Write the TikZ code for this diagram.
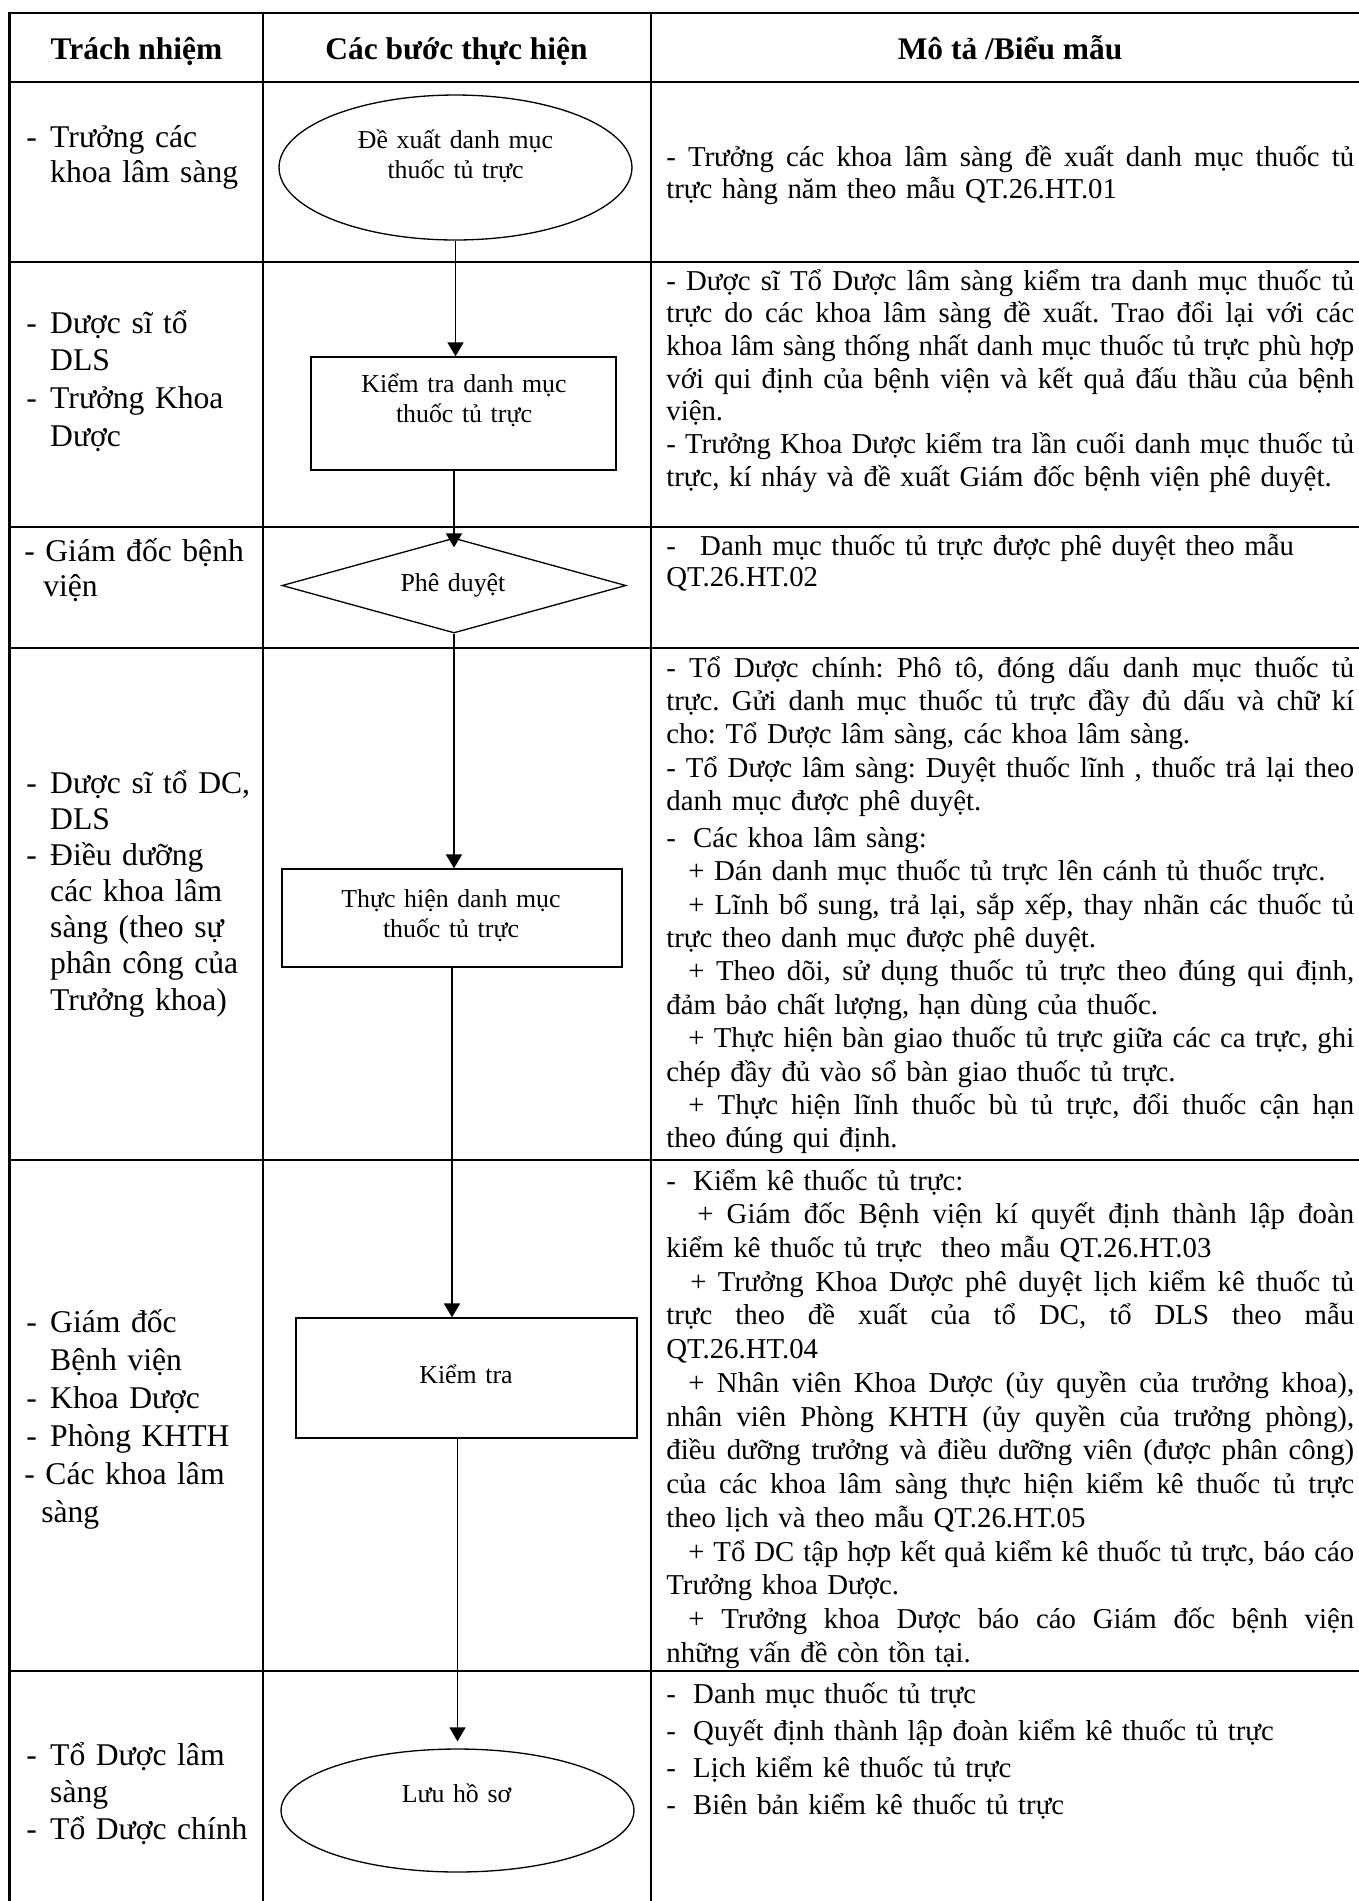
\documentclass[tikz,border=0pt]{standalone}
\usepackage{fontspec}
\setmainfont{Liberation Serif}
\usetikzlibrary{arrows.meta}
\usetikzlibrary{shapes.geometric}
\frenchspacing
\newcommand{\dashitem}[0]{\makebox[13.6pt][l]{-}}
\newcommand{\dashhang}[0]{\hspace*{13.6pt}}
\newcommand{\tabdash}[0]{\makebox[15.3pt][l]{-}}
\newcommand{\plusgap}[0]{\hspace*{12.5pt}}
\newcommand{\fullline}[1]{\hbox to \hsize{\spaceskip=0.25em plus 2em minus 0.083em\relax #1}\par}
\newcommand{\openline}[1]{\hbox{#1}\par}
\tikzset{
    tableline/.style={line width=1.3pt},
    headtext/.style={anchor=base, inner sep=0pt, font=\fontsize{17.9}{20}\selectfont\bfseries},
    resptext/.style={anchor=base west, inner sep=0pt, text width=4.7cm, font=\fontsize{18}{#1}\selectfont},
    desctext/.style={anchor=base west, inner sep=0pt, text width=13.76cm, font=\fontsize{16.4}{#1}\selectfont},
    stepend/.style={ellipse, draw=black, line width=0.75pt, inner sep=0pt},
    stepbox/.style={rectangle, draw=black, line width=0.75pt, inner sep=0pt},
    stepcheck/.style={diamond, draw=black, line width=0.75pt, inner sep=0pt},
    steptext/.style={anchor=base, inner sep=0pt, text width=6cm, align=center, font=\fontsize{14.7}{17.6}\selectfont},
    flowarrow/.style={line width=0.95pt, -{Triangle[length=0.28cm, width=0.32cm]}},
}
\begin{document}
\begin{tikzpicture}[x=0.02cm, y=-0.02cm]
    \fill[white] (0,0) rectangle (1359,1901);
    \useasboundingbox (0,0) rectangle (1359,1901);
    % table
    \draw[tableline] (1370,13) -- (9.5,13) -- (9.5,1910);
    \draw[tableline] (263,13) -- (263,1910);
    \draw[tableline] (651,13) -- (651,1910);
    \draw[tableline] (9.5,82) -- (1370,82);
    \draw[tableline] (9.5,262) -- (1370,262);
    \draw[tableline] (9.5,527) -- (1370,527);
    \draw[tableline] (9.5,648) -- (1370,648);
    \draw[tableline] (9.5,1160) -- (1370,1160);
    \draw[tableline] (9.5,1671) -- (1370,1671);

    \node[headtext] (head_resp) at (136.5,59) {Trách nhiệm};
    \node[headtext] (head_steps) at (456.5,59) {Các bước thực hiện};
    \node[headtext] (head_desc) at (1010,59) {Mô tả /Biểu mẫu};

    % steps
    \node[stepend, minimum width=7.06cm, minimum height=2.9cm] (propose) at (455.5,167.5) {};
    \node[steptext] (propose_text) at (455.5,148) {Đề xuất danh mục\\thuốc tủ trực};
    \node[stepbox, minimum width=6.1cm, minimum height=2.26cm] (checklist) at (463.5,413.5) {};
    \node[steptext] (checklist_text) at (464,392) {Kiểm tra danh mục\\thuốc tủ trực};
    \node[stepcheck, minimum width=6.88cm, minimum height=1.9cm] (approve) at (454,585.5) {};
    \node[steptext] (approve_text) at (453,591) {Phê duyệt};
    \node[stepbox, minimum width=6.8cm, minimum height=1.96cm] (implement) at (452,918) {};
    \node[steptext] (implement_text) at (451,907) {Thực hiện danh mục\\thuốc tủ trực};
    \node[stepbox, minimum width=6.82cm, minimum height=2.4cm] (inspect) at (466.5,1378) {};
    \node[steptext] (inspect_text) at (466,1383) {Kiểm tra};
    \node[stepend, minimum width=7.06cm, minimum height=2.46cm] (archive) at (457.5,1810.5) {};
    \node[steptext] (archive_text) at (456.5,1802) {Lưu hồ sơ};

    \draw[flowarrow] (propose.south) -- (propose.south |- checklist.north);
    \draw[flowarrow] (checklist.south -| approve.north) -- ([yshift=-0.2cm]approve.north);
    \draw[flowarrow] (approve.south) -- (approve.south |- implement.north);
    \draw[flowarrow] (implement.south) -- (implement.south |- inspect.north);
    \draw[flowarrow] (inspect.south -| archive.north) -- ([yshift=0.14cm]archive.north);

    % responsibilities
    \node[resptext=20.4pt] (resp_propose) at (26,147) {%
        \openline{\dashitem Trưởng các}
        \openline{\dashhang khoa lâm sàng}};
    \node[resptext=21.5pt] (resp_checklist) at (26,333) {%
        \openline{\dashitem Dược sĩ tổ}
        \openline{\dashhang DLS}
        \openline{\dashitem Trưởng Khoa}
        \openline{\dashhang Dược}};
    \node[resptext=20.4pt] (resp_approve) at (24,561) {%
        \openline{- Giám đốc bệnh}
        \openline{\hspace*{10.8pt}viện}};
    \node[resptext=20.6pt] (resp_implement) at (26,793) {%
        \openline{\dashitem Dược sĩ tổ DC,}
        \openline{\dashhang DLS}
        \openline{\dashitem Điều dưỡng}
        \openline{\dashhang các khoa lâm}
        \openline{\dashhang sàng (theo sự}
        \openline{\dashhang phân công của}
        \openline{\dashhang Trưởng khoa)}};
    \node[resptext=21.7pt] (resp_inspect) at (26,1332) {%
        \openline{\dashitem Giám đốc}
        \openline{\dashhang Bệnh viện}
        \openline{\dashitem Khoa Dược}
        \openline{\dashitem Phòng KHTH}
        \openline{\hspace*{-1.1pt}- Các khoa lâm}
        \openline{\hspace*{8.5pt}sàng}};
    \node[resptext=21.3pt] (resp_archive) at (26,1765) {%
        \openline{\dashitem Tổ Dược lâm}
        \openline{\dashhang sàng}
        \openline{\dashitem Tổ Dược chính}};

    % descriptions
    \node[desctext=18.7pt] (desc_propose) at (666,166) {%
        \fullline{- Trưởng các khoa lâm sàng đề xuất danh mục thuốc tủ}
        \openline{trực hàng năm theo mẫu QT.26.HT.01}};
    \node[desctext=18.6pt] (desc_checklist) at (666,290) {%
        \fullline{- Dược sĩ Tổ Dược lâm sàng kiểm tra danh mục thuốc tủ}
        \fullline{trực do các khoa lâm sàng đề xuất. Trao đổi lại với các}
        \fullline{khoa lâm sàng thống nhất danh mục thuốc tủ trực phù hợp}
        \fullline{với qui định của bệnh viện và kết quả đấu thầu của bệnh}
        \openline{viện.}
        \fullline{- Trưởng Khoa Dược kiểm tra lần cuối danh mục thuốc tủ}
        \openline{trực, kí nháy và đề xuất Giám đốc bệnh viện phê duyệt.}};
    \node[desctext=18.1pt] (desc_approve) at (666,555) {%
        \openline{\makebox[19.3pt][l]{-}Danh mục thuốc tủ trực được phê duyệt theo mẫu}
        \openline{QT.26.HT.02}};
    \node[desctext=19pt] (desc_implement) at (666,677) {%
        \fullline{- Tổ Dược chính: Phô tô, đóng dấu danh mục thuốc tủ}
        \fullline{trực. Gửi danh mục thuốc tủ trực đầy đủ dấu và chữ kí}
        \openline{cho: Tổ Dược lâm sàng, các khoa lâm sàng.}
        \fullline{- Tổ Dược lâm sàng: Duyệt thuốc lĩnh , thuốc trả lại theo}
        \openline{danh mục được phê duyệt.}
        \vskip 2pt
        \openline{\tabdash Các khoa lâm sàng:}
        \openline{\plusgap + Dán danh mục thuốc tủ trực lên cánh tủ thuốc trực.}
        \fullline{\plusgap + Lĩnh bổ sung, trả lại, sắp xếp, thay nhãn các thuốc tủ}
        \openline{trực theo danh mục được phê duyệt.}
        \fullline{\plusgap + Theo dõi, sử dụng thuốc tủ trực theo đúng qui định,}
        \openline{đảm bảo chất lượng, hạn dùng của thuốc.}
        \fullline{\plusgap + Thực hiện bàn giao thuốc tủ trực giữa các ca trực, ghi}
        \openline{chép đầy đủ vào sổ bàn giao thuốc tủ trực.}
        \fullline{\plusgap + Thực hiện lĩnh thuốc bù tủ trực, đổi thuốc cận hạn}
        \openline{theo đúng qui định.}};
    \node[desctext=19.2pt] (desc_inspect) at (666,1190) {%
        \openline{\tabdash Kiểm kê thuốc tủ trực:}
        \fullline{\hspace*{17.6pt}+ Giám đốc Bệnh viện kí quyết định thành lập đoàn}
        \openline{kiểm kê thuốc tủ trực\ \ theo mẫu QT.26.HT.03}
        \fullline{\hspace*{13.6pt}+ Trưởng Khoa Dược phê duyệt lịch kiểm kê thuốc tủ}
        \fullline{trực theo đề xuất của tổ DC, tổ DLS theo mẫu}
        \openline{QT.26.HT.04}
        \fullline{\plusgap + Nhân viên Khoa Dược (ủy quyền của trưởng khoa),}
        \fullline{nhân viên Phòng KHTH (ủy quyền của trưởng phòng),}
        \fullline{điều dưỡng trưởng và điều dưỡng viên (được phân công)}
        \fullline{của các khoa lâm sàng thực hiện kiểm kê thuốc tủ trực}
        \openline{theo lịch và theo mẫu QT.26.HT.05}
        \fullline{\plusgap + Tổ DC tập hợp kết quả kiểm kê thuốc tủ trực, báo cáo}
        \openline{Trưởng khoa Dược.}
        \fullline{\plusgap + Trưởng khoa Dược báo cáo Giám đốc bệnh viện}
        \openline{những vấn đề còn tồn tại.}};
    \node[desctext=21.1pt] (desc_archive) at (666,1703) {%
        \openline{\tabdash Danh mục thuốc tủ trực}
        \openline{\tabdash Quyết định thành lập đoàn kiểm kê thuốc tủ trực}
        \openline{\tabdash Lịch kiểm kê thuốc tủ trực}
        \openline{\tabdash Biên bản kiểm kê thuốc tủ trực}};
\end{tikzpicture}
\end{document}
